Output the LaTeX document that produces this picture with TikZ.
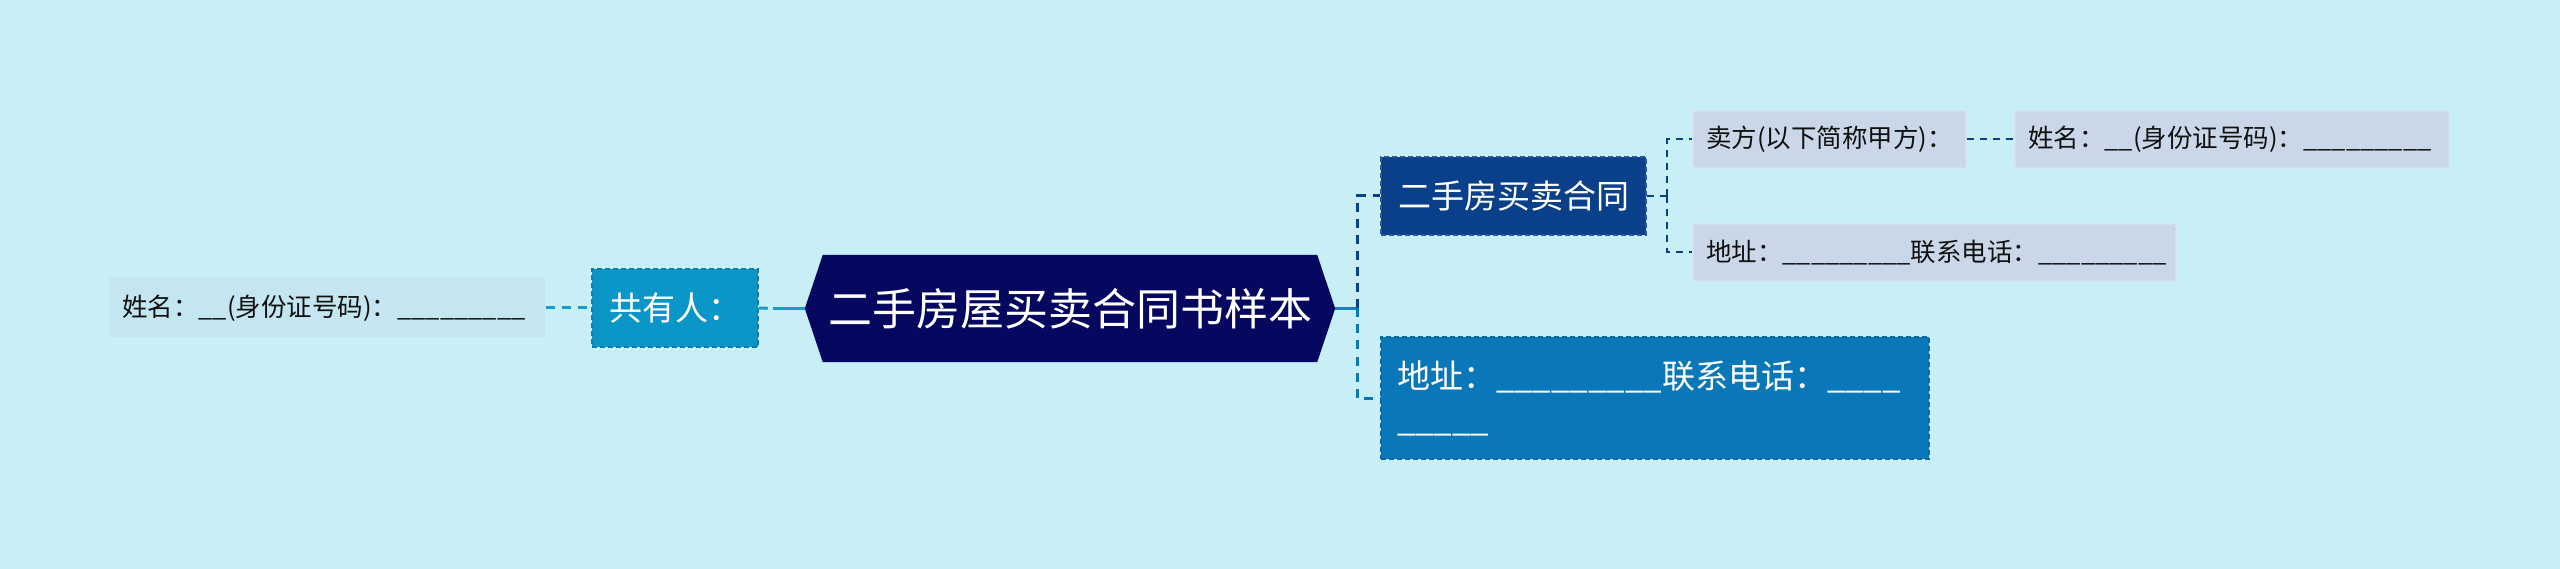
\documentclass[tikz,border=0pt]{standalone}
\usepackage{fontspec}
\newfontfamily\cjk{Noto Sans CJK SC}
\usetikzlibrary{backgrounds}
\definecolor{bgc}{HTML}{C8EFF6}
\definecolor{lnamefill}{HTML}{C3E6F0}
\definecolor{gongfill}{HTML}{0B96C8}
\definecolor{gongborder}{HTML}{0A7DB0}
\definecolor{rootfill}{HTML}{06085F}
\definecolor{contractfill}{HTML}{0A3F8A}
\definecolor{contractborder}{HTML}{2A5598}
\definecolor{leaffill}{HTML}{CAD7E8}
\definecolor{leafborder}{HTML}{D9E2EE}
\definecolor{addrfill}{HTML}{0A78B8}
\definecolor{addrborder}{HTML}{0A68A4}
\definecolor{tealline}{HTML}{1A9CC9}
\definecolor{stubline}{HTML}{1A80BE}
\definecolor{navyline}{HTML}{0A3F8A}
\definecolor{blueline}{HTML}{0A78B8}
\definecolor{darktext}{HTML}{101010}
\tikzset{
  smallfont/.style={font=\cjk\fontsize{25.5}{30}\selectfont},
  midfont/.style={font=\cjk\fontsize{33}{43}\selectfont},
  boxbase/.style={rectangle, inner ysep=0pt, align=left, line width=1.5pt},
  leafbox/.style={boxbase, smallfont, fill=leaffill, draw=leafborder, dash pattern=on 5pt off 3pt, inner xsep=13pt, text=darktext},
  lnamebox/.style={boxbase, smallfont, fill=lnamefill, inner xsep=13pt, text=darktext},
  gongbox/.style={boxbase, midfont, fill=gongfill, draw=gongborder, dash pattern=on 5pt off 3pt, inner xsep=17pt, text=white},
  contractbox/.style={boxbase, midfont, fill=contractfill, draw=contractborder, dash pattern=on 5pt off 3pt, inner xsep=17pt, text=white},
  addrbox/.style={boxbase, midfont, fill=addrfill, draw=addrborder, dash pattern=on 5pt off 3pt, inner xsep=16pt, text=white},
  rootbox/.style={rectangle, inner sep=0pt, font=\cjk\fontsize{44}{52}\selectfont, text=white},
  conn1/.style={line width=3pt, dash pattern=on 9pt off 7pt},
  conn2/.style={line width=2pt, dash pattern=on 7pt off 6pt, draw=navyline},
}
\begin{document}
\begin{tikzpicture}[x=1pt,y=-1pt]
\begin{scope}[on background layer]
\fill[bgc] (0,0) rectangle (2560,569);
\end{scope}
\useasboundingbox (0,0) rectangle (2560,569);

% nodes
\node[rootbox, minimum width=530pt, minimum height=107pt] (root) at (1070,308.5) {二手房屋买卖合同书样本};
\begin{scope}[on background layer]
\fill[rootfill] (root.west) -- ([xshift=18pt]root.north west) -- ([xshift=-18pt]root.north east) -- (root.east) -- ([xshift=-18pt]root.south east) -- ([xshift=18pt]root.south west) -- cycle;
\end{scope}

\node[gongbox, minimum height=78pt, text width=132pt] (gong) at (675,308) {共有人：};
\node[lnamebox, minimum height=59pt, text width=410pt] (lname) at (327,308) {姓名：\_\_(身份证号码)：\_\_\_\_\_\_\_\_\_};

\node[contractbox, minimum height=78pt, text width=231pt] (contract) at (1513.5,196) {二手房买卖合同};
\node[addrbox, minimum height=122pt, text width=516pt] (addrbig) at (1655,398) {地址：\_\_\_\_\_\_\_\_\_联系电话：\_\_\_\_\\\_\_\_\_\_};

\node[leafbox, minimum height=57pt, text width=247pt] (seller) at (1829.5,139.5) {卖方(以下简称甲方)：};
\node[leafbox, minimum height=57pt, text width=408pt] (nameR) at (2232,139.5) {姓名：\_\_(身份证号码)：\_\_\_\_\_\_\_\_\_};
\node[leafbox, minimum height=57pt, text width=457pt] (addrs) at (1934.5,252.5) {地址：\_\_\_\_\_\_\_\_\_联系电话：\_\_\_\_\_\_\_\_\_};

% connectors left
\coordinate (lj) at (773,308.5);
\draw[conn1, draw=tealline] (lname.east) -- (gong.west);
\draw[conn1, draw=tealline] (gong.east) -- (lj);
\draw[line width=3pt, draw=tealline] (lj) -- (root.west);

% connectors right
\coordinate (rj) at (1357,308.5);
\draw[line width=3pt, draw=stubline] (root.east) -- (rj);
\draw[conn1, draw=navyline] (rj) |- (contract.west);
\draw[conn1, draw=blueline] (rj) |- (addrbig.west);

\coordinate (cj) at (1667,196);
\draw[conn2] (contract.east) -- (cj);
\draw[conn2] (cj) |- (seller.west);
\draw[conn2] (cj) |- (addrs.west);
\draw[conn2] (seller.east) -- (nameR.west);
\end{tikzpicture}
\end{document}
